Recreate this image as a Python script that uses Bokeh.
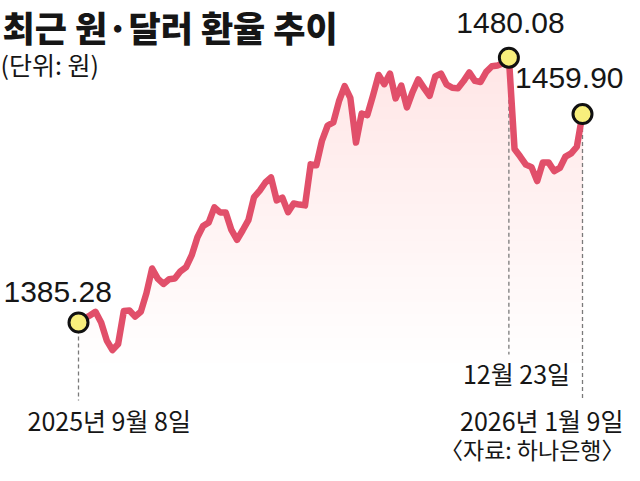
import numpy as np
import pandas as pd
from bokeh.plotting import figure
from bokeh.models import ColumnDataSource, Label, Range1d
from bokeh.embed import file_html
from bokeh.resources import INLINE

# ---- data ----
dates = pd.bdate_range("2025-09-08", "2026-01-09")  # weekdays, 90 points
rates = [
    1385.28, 1386.6, 1387.8, 1389.1, 1385.3, 1378.8, 1375.4, 1377.6, 1389.4, 1389.6,
    1387.4, 1389.1, 1395.8, 1404.6, 1401.0, 1399.1, 1400.8, 1401.0, 1403.6, 1405.1,
    1409.4, 1415.8, 1419.8, 1421.1, 1426.5, 1424.7, 1424.7, 1418.4, 1414.9, 1418.3,
    1421.9, 1430.2, 1432.5, 1435.4, 1437.2, 1429.0, 1430.0, 1424.8, 1427.9, 1427.5,
    1427.2, 1441.9, 1441.6, 1450.4, 1455.8, 1456.9, 1464.5, 1469.9, 1465.7, 1449.7,
    1460.1, 1459.5, 1466.5, 1473.9, 1470.6, 1474.4, 1465.5, 1470.1, 1462.3, 1467.8,
    1472.3, 1469.3, 1466.4, 1473.4, 1474.4, 1470.5, 1469.3, 1469.1, 1471.7, 1474.8,
    1471.8, 1471.4, 1475.0, 1477.0, 1477.3, 1478.1, 1480.08, 1447.4, 1444.7, 1441.8,
    1440.9, 1435.9, 1442.6, 1442.6, 1439.5, 1440.6, 1444.7, 1445.8, 1448.2, 1459.90,
]
title_text = "최근 원·달러 환율 추이"
unit_text = "(단위: 원)"
source_text = "〈자료: 하나은행〉"

# ---- layout / style ----
W, H = 624, 465
LINE = "#e14f6a"
TXT = "#161616"
NUM_FONT = "Liberation Sans"
KR_FONT = "Noto Sans CJK KR"
TITLE_FONT = "Noto Sans CJK KR Black, Noto Sans CJK KR"
TEXT_SHIFT = 11  # correction so that label baselines land where intended

n = len(rates)
x = np.arange(n)
vals = np.array(rates)

X0_PX, X1_PX = 78, 582
px_per_day = (X1_PX - X0_PX) / (n - 1)
x_start = -X0_PX / px_per_day
x_end = (n - 1) + (W - X1_PX) / px_per_day

Y_REF_PX, WON_PER_PX = 322, 0.358
y_top = rates[0] + Y_REF_PX * WON_PER_PX
y_bot = rates[0] - (H - Y_REF_PX) * WON_PER_PX


def xd(px):
    return x_start + px / px_per_day


def yd(py):
    return y_top - py * WON_PER_PX


p = figure(width=W, height=H, output_backend="svg", toolbar_location=None,
           x_range=Range1d(x_start, x_end), y_range=Range1d(y_bot, y_top),
           min_border=0, x_axis_location=None, y_axis_location=None)
p.grid.visible = False
p.outline_line_color = None
p.background_fill_color = "white"
p.border_fill_color = "white"

# gradient-like fill under the line: stacked translucent layers
levels = np.linspace(yd(362), vals.max(), 26)
for L in levels:
    src = ColumnDataSource(dict(x=x, y1=np.maximum(vals, L), y2=np.full(n, L)))
    p.varea(x="x", y1="y1", y2="y2", source=src, fill_color=LINE, fill_alpha=0.0095)

i_start, i_peak, i_end = 0, int(np.argmax(vals)), n - 1

# dashed guide lines
p.segment(x0=[i_start, i_peak, i_end], x1=[i_start, i_peak, i_end],
          y0=[vals[i_start], vals[i_peak], vals[i_end]],
          y1=[yd(400), yd(354), yd(400)],
          line_color="#7a7a7a", line_width=1.3, line_dash="4 3")

p.line(x, vals, line_color=LINE, line_width=6.5, line_join="round", line_cap="round")

p.scatter(x=[i_start, i_peak, i_end], y=[vals[i_start], vals[i_peak], vals[i_end]],
          size=19, fill_color="#f8ef7c", line_color="#111111", line_width=3)


def lab(px, py, text, size, font, align="left", style="normal"):
    p.add_layout(Label(x=xd(px), y=yd(py - TEXT_SHIFT), text=text, text_font=font,
                       text_font_size=f"{size}px", text_font_style=style,
                       text_color=TXT, text_align=align, text_baseline="alphabetic"))


lab(2, 37, title_text, 35, TITLE_FONT, style="bold")
lab(0, 74, unit_text, 25, KR_FONT)

lab(3, 302, f"{vals[i_start]:.2f}", 30, NUM_FONT)
lab(510, 33, f"{vals[i_peak]:.2f}", 30, NUM_FONT, align="center")
lab(623, 88, f"{vals[i_end]:.2f}", 30, NUM_FONT, align="right")

d0, dp, de = dates[i_start], dates[i_peak], dates[i_end]
lab(516, 383, f"{dp.month}월 {dp.day}일", 25, KR_FONT, align="center")
lab(27, 430, f"{d0.year}년 {d0.month}월 {d0.day}일", 25, KR_FONT)
lab(623, 430, f"{de.year}년 {de.month}월 {de.day}일", 25, KR_FONT, align="right")
lab(624, 459, source_text, 23, KR_FONT, align="right")

open("out.html", "w").write(file_html(p, INLINE))
